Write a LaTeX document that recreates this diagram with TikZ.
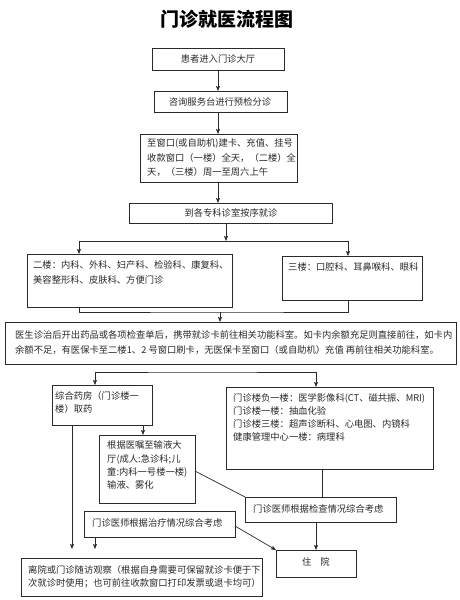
\documentclass[tikz,border=0pt]{standalone}
\usepackage{fontspec}
\setmainfont{Noto Sans CJK SC}
\usetikzlibrary{arrows.meta,calc}
\definecolor{ink}{HTML}{2A2A2A}
\newcommand\bxat[5]{\node[box, minimum width={#4-#2}, minimum height={#5-#3}] (#1) at (#2,#3) {};}
\begin{document}
\begin{tikzpicture}[x=1pt,y=-1pt,
  box/.style={draw=ink, line width=0.7pt, anchor=north west, inner sep=0pt, outer sep=0pt},
  txt/.style={anchor=north west, inner sep=0pt, align=left, text=ink, font=\fontsize{9.3pt}{13pt}\selectfont},
  ctxt/.style={inner sep=0pt, text=ink, font=\fontsize{9.3pt}{13pt}\selectfont},
  ln/.style={draw=ink, line width=0.7pt},
  arr/.style={draw=ink, line width=0.7pt, -{Stealth[length=5pt,width=4pt,inset=1pt]}},
  arrb/.style={draw=ink, line width=0.7pt, {Stealth[length=5pt,width=4pt,inset=1pt]}-{Stealth[length=5pt,width=4pt,inset=1pt]}}]
\useasboundingbox (0,0) rectangle (460,600);
\fill[white] (0,0) rectangle (460,600);
% title
\node[text=black, font=\bfseries\fontsize{19pt}{19pt}\selectfont] (title) at (227,19) {门诊就医流程图};
% boxes
\bxat{b1}{152}{48}{284}{70}
\bxat{b2}{154}{91}{287}{112}
\bxat{b3}{140}{134}{297}{182}
\bxat{b4}{129}{203}{332}{223}
\bxat{b5}{27}{254}{232}{307}
\bxat{b6}{282}{256}{422}{300}
\bxat{b7}{5}{322}{456}{364}
\bxat{b8}{52}{385}{152}{425}
\bxat{b9}{226}{387}{433}{469}
\bxat{b10}{99}{435}{195}{503}
\bxat{b11}{245}{497}{396}{522}
\bxat{b12}{84}{511}{235}{537}
\bxat{b13}{276}{550}{356}{577}
\bxat{b14}{21}{558}{262}{596}
% texts
\node[ctxt] (t1) at (218,59) {患者进入门诊大厅};
\node[ctxt] (t2) at (220,102) {咨询服务台进行预检分诊};
\node[txt, font=\fontsize{9.3pt}{14.5pt}\selectfont] (t3) at (147,138.7) {至窗口(或自助机)建卡、充值、挂号\\收款窗口（一楼）全天，（二楼）全\\天，（三楼）周一至周六上午};
\node[ctxt] (t4) at (231,213) {到各专科诊室按序就诊};
\node[txt, font=\fontsize{9.3pt}{15pt}\selectfont] (t5) at (33,260.7) {二楼：内科、外科、妇产科、检验科、康复科、\\美容整形科、皮肤科、方便门诊};
\node[txt] (t6) at (288,262.7) {三楼：口腔科、耳鼻喉科、眼科};
\node[txt, font=\fontsize{9.3pt}{15pt}\selectfont] (t7) at (15,330.7) {医生诊治后开出药品或各项检查单后，携带就诊卡前往相关功能科室。如卡内余额充足则直接前往，如卡内\\余额不足，有医保卡至二楼1、2 号窗口刷卡，无医保卡至窗口（或自助机）充值 再前往相关功能科室。};
\node[txt] (t8) at (55,391.7) {综合药房（门诊楼一\\楼）取药};
\node[txt] (t9) at (233,393.7) {门诊楼负一楼：医学影像科(CT、磁共振、MRI)\\门诊楼一楼：抽血化验\\门诊楼三楼：超声诊断科、心电图、内镜科\\健康管理中心一楼：病理科};
\node[txt, font=\fontsize{9.3pt}{13.3pt}\selectfont] (t10) at (107,440.7) {根据医嘱至输液大\\厅(成人:急诊科;儿\\童:内科一号楼一楼)\\输液、雾化};
\node[ctxt, anchor=west] (t11) at (253,509) {门诊医师根据检查情况综合考虑};
\node[ctxt, anchor=west] (t12) at (92,523) {门诊医师根据治疗情况综合考虑};
\node[ctxt] (t13) at (316,562) {住\hspace{9pt}院};
\node[txt] (t14) at (28,565.7) {离院或门诊随访观察（根据自身需要可保留就诊卡便于下\\次就诊时使用；也可前往收款窗口打印发票或退卡均可）};
% connectors
\draw[arr] (b1.south) -- (b1.south |- b2.north);
\draw[arr] (b1.south |- b2.south) -- (b1.south |- b3.north);
\draw[arr] (b1.south |- b3.south) -- (b1.south |- b4.north);
\coordinate (j1) at (226,241);
\draw[arr] (j1 |- b4.south) -- (j1);
\draw[arr] (j1) -| ([xshift=52pt]b5.north west);
\draw[arr] (j1) -| ([xshift=66pt]b6.north west);
\coordinate (j2) at (220,312);
\draw[ln] ([xshift=52pt]b5.south west) |- (j2) -| ([xshift=66pt]b6.south west);
\draw[arr] (j2) -- (j2 |- b7.north);
\coordinate (j3) at (200,372);
\draw[arrb] ([xshift=43pt]b8.north west) |- (j3) -| ([xshift=90pt]b9.north west);
\draw[arr] ([xshift=91pt]b8.south west) -- ([xshift=91pt]b8.south west |- b10.north);
\draw[arr, shorten >=9pt] ([xshift=20pt]b8.south west) -- ([xshift=20pt]b8.south west |- b14.north);
\draw[ln] ([xshift=96pt]b9.south west) -- ([xshift=96pt]b9.south west |- b11.north);
\draw[ln] ([yshift=-36pt]b10.north east) -- (b11.north west);
\draw[arr] ([xshift=71pt]b11.south west) -- ([xshift=71pt]b11.south west |- b13.north);
\draw[arr, shorten >=9pt] ([xshift=11pt]b12.south west) -- ([xshift=11pt]b12.south west |- b14.north);
\draw[arr] ([yshift=-15pt]b12.north east) -- (b13.north west);
\end{tikzpicture}
\end{document}
